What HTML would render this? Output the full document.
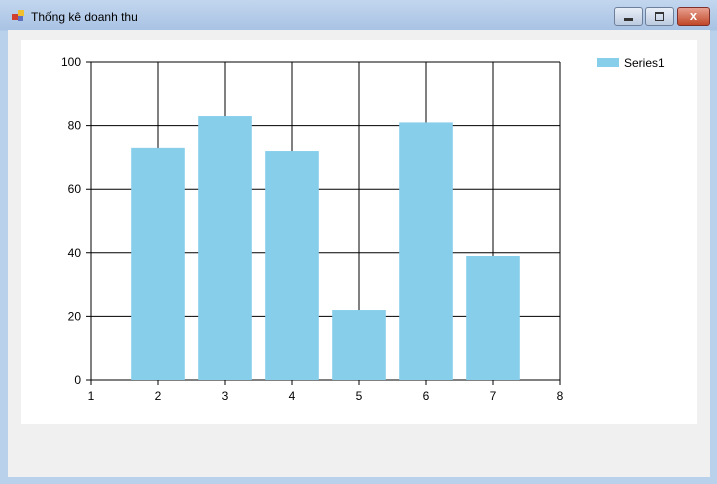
<!DOCTYPE html>
<html><head><meta charset="utf-8"><style>
body{margin:0;width:717px;height:484px;overflow:hidden;font-family:"Liberation Sans",sans-serif;background:#b9d1ea}
#win{position:absolute;left:0;top:0;width:717px;height:484px;background:linear-gradient(#c2d6ee,#a9c3e4 30px,#b9d1ea 31px)}
#title{position:absolute;left:31px;top:10px;font-size:12px;color:#000}
#client{position:absolute;left:8px;top:30px;width:702px;height:447px;background:#f0f0f0}
.btn{position:absolute;top:7px;height:17px;border:1px solid #6d7f99;border-radius:3px;background:linear-gradient(#e8eef7,#bccbe0)}
</style></head><body>
<div id="win">
<svg style="position:absolute;left:12px;top:10px" width="14" height="12"><rect x="0" y="4" width="6" height="6" fill="#d04030"/><rect x="6" y="0" width="6" height="6" fill="#f0c030"/><rect x="6" y="6" width="5" height="5" fill="#6070c0"/></svg>
<div id="title">Thống kê doanh thu</div>
<div class="btn" style="left:614px;width:27px"><div style="position:absolute;left:9px;top:10px;width:9px;height:3px;background:#333"></div></div>
<div class="btn" style="left:645px;width:27px"><div style="position:absolute;left:9px;top:4px;width:7px;height:6px;border:1px solid #333;border-top-width:2px"></div></div>
<div class="btn" style="left:677px;width:31px;background:linear-gradient(#e8a090,#c04828);border-color:#80302a"><div style="position:absolute;left:0;width:31px;top:0;text-align:center;color:#fff;font-weight:bold;font-size:13px">x</div></div>
<div id="client"></div>
<svg id="chart" style="position:absolute;left:0;top:0" width="717" height="484"></svg>
</div>
<script>
const categories=[2,3,4,5,6,7];
const values=[73,83,72,22,81,39];
const xTicks=[1,2,3,4,5,6,7,8];
const yTicks=[0,20,40,60,80,100];
const ns="http://www.w3.org/2000/svg";
const svg=document.getElementById('chart');
const X0=91,X1=560,Y0=380,Y1=62;
const sx=v=>X0+(v-1)/(8-1)*(X1-X0);
const sy=v=>Y0-v/100*(Y0-Y1);
function mk(t,a){const e=document.createElementNS(ns,t);for(const k in a)e.setAttribute(k,a[k]);svg.appendChild(e);return e;}
const panel=mk('rect',{x:21,y:40,width:676,height:384,fill:'#fff'});


xTicks.forEach(t=>{
 const l=mk('line',{x1:sx(t),x2:sx(t),y1:Y1,y2:Y0+5,stroke:'#000','stroke-width':1});
 
 
 const tx=mk('text',{x:sx(t),y:400,'text-anchor':'middle','font-size':12,fill:'#000'});
 tx.textContent=t;
 
 
});
yTicks.forEach(t=>{
 const l=mk('line',{x1:X0-5,x2:X1,y1:sy(t),y2:sy(t),stroke:'#000','stroke-width':1});
 
 
 const tx=mk('text',{x:81,y:sy(t)+4,'text-anchor':'end','font-size':12,fill:'#000'});
 tx.textContent=t;
 
 
});
const bw=(sx(2)-sx(1))*0.8;
categories.forEach((c,i)=>{
 const b=mk('rect',{x:sx(c)-bw/2,y:sy(values[i]),width:bw,height:sy(0)-sy(values[i]),fill:'#87ceeb'});
 
 
});
const lg=mk('rect',{x:597,y:58,width:22,height:9,fill:'#87ceeb'});


const lt=mk('text',{x:624,y:67,'font-size':12,fill:'#000'});
lt.textContent='Series1';


</script>
</body></html>
